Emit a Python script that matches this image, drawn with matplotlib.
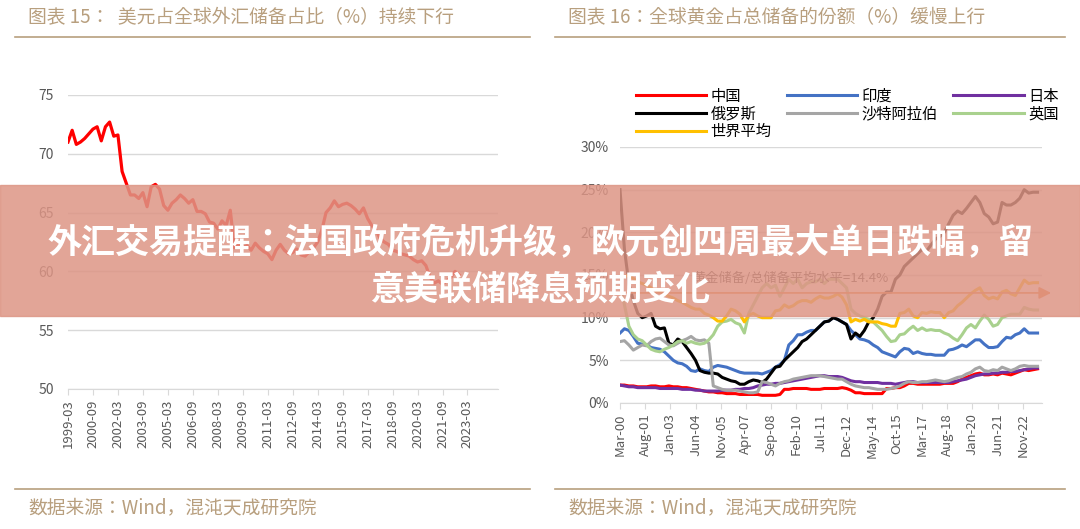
import matplotlib
matplotlib.use("Agg")
import matplotlib.pyplot as plt
import numpy as np

plt.rcParams["font.family"] = ["Noto Sans CJK JP", "DejaVu Sans"]

# ---- Left chart data: USD share of global FX reserves, quarterly from 1999-03
usd_share = [71.0, 72.0, 70.8, 71.0, 71.3, 71.7, 72.1, 72.3, 71.1, 72.3, 72.7, 71.5,
             71.6, 68.5, 67.5, 66.5, 66.5, 66.2, 66.7, 65.5, 67.2, 67.4, 67.0, 65.6,
             65.2, 65.8, 66.1, 66.5, 66.2, 65.8, 66.1, 65.1, 65.1, 64.9, 64.2, 64.1,
             63.6, 64.3, 63.9, 65.2, 62.0, 62.3, 62.0, 62.2, 61.8, 62.4, 62.0, 61.7,
             61.5, 61.0, 61.8, 62.3, 61.8, 61.5, 61.6, 61.9, 61.4, 61.3, 61.7, 62.0,
             62.5, 63.5, 65.0, 65.4, 66.0, 65.5, 65.7, 65.8, 65.6, 65.3, 64.9, 65.4,
             64.5, 63.9, 63.5, 62.8, 62.5, 62.3, 61.8, 61.7, 61.5, 61.4, 61.3, 61.0,
             60.8, 60.9, 60.5, 59.5, 59.0, 59.2, 58.9, 59.2, 59.5, 60.0, 59.7]
left_ticks = ["1999-03", "2000-09", "2002-03", "2003-09", "2005-03", "2006-09",
              "2008-03", "2009-09", "2011-03", "2012-09", "2014-03", "2015-09",
              "2017-03", "2018-09", "2020-03", "2021-09", "2023-03"]

# ---- Right chart data: gold / total reserves (%), quarterly from Mar-00
china = [2.1, 2.1, 2.0, 2.0, 1.9, 1.9, 1.9, 2.0, 2.0, 1.9, 1.9, 2.0, 1.9, 1.9, 1.8, 1.8,
         1.7, 1.6, 1.5, 1.4, 1.3, 1.3, 1.2, 1.2, 1.1, 1.1, 1.1, 1.0, 1.0, 1.0, 1.0, 1.0,
         0.9, 0.9, 0.9, 0.9, 1.0, 1.6, 1.6, 1.7, 1.7, 1.7, 1.7, 1.6, 1.6, 1.6, 1.7, 1.7,
         1.7, 1.7, 1.8, 1.7, 1.5, 1.2, 1.2, 1.1, 1.1, 1.1, 1.1, 1.1, 1.7, 1.7, 1.8, 1.8,
         2.0, 2.3, 2.3, 2.2, 2.2, 2.2, 2.2, 2.2, 2.2, 2.3, 2.3, 2.3, 2.5, 2.8, 3.0, 3.2,
         3.4, 3.5, 3.3, 3.3, 3.4, 3.3, 3.5, 3.4, 3.3, 3.5, 3.7, 3.9, 3.8, 3.9, 4.0]
india = [8.2, 8.7, 8.5, 7.8, 7.0, 6.9, 6.8, 6.5, 6.4, 6.3, 6.0, 5.5, 5.0, 4.7, 4.6, 4.3,
         3.8, 3.7, 4.0, 3.8, 3.7, 4.2, 4.4, 4.3, 4.2, 4.0, 3.8, 3.6, 3.5, 3.5, 3.5, 3.5,
         3.4, 3.6, 3.8, 4.2, 4.5, 5.0, 6.8, 7.3, 8.0, 8.0, 8.3, 8.5, 8.5, 9.0, 9.5, 9.6,
         10.0, 9.8, 9.5, 9.2, 8.5, 8.0, 7.5, 7.4, 7.2, 6.8, 6.5, 6.0, 5.8, 5.6, 5.4, 6.0,
         6.4, 6.3, 5.8, 6.0, 5.8, 5.7, 5.7, 5.6, 5.6, 5.6, 6.2, 6.3, 6.5, 6.8, 6.6, 7.0,
         7.4, 7.4, 6.9, 6.5, 6.5, 6.6, 7.2, 7.7, 7.6, 8.0, 8.2, 8.7, 8.2, 8.2, 8.2]
japan = [2.1, 2.0, 1.9, 1.9, 1.8, 1.8, 1.8, 1.8, 1.8, 1.7, 1.7, 1.7, 1.7, 1.7, 1.6, 1.6,
         1.6, 1.5, 1.5, 1.4, 1.4, 1.4, 1.4, 1.5, 1.5, 1.5, 1.6, 1.6, 1.7, 1.7, 1.8, 2.0,
         2.1, 2.2, 2.2, 2.3, 2.3, 2.4, 2.5, 2.6, 2.7, 2.8, 2.9, 3.0, 3.1, 3.2, 3.2, 3.1,
         3.1, 3.1, 3.0, 2.8, 2.6, 2.5, 2.5, 2.4, 2.4, 2.4, 2.4, 2.3, 2.3, 2.3, 2.2, 2.3,
         2.4, 2.5, 2.5, 2.4, 2.4, 2.4, 2.4, 2.4, 2.4, 2.4, 2.4, 2.5, 2.6, 2.7, 2.8, 3.0,
         3.2, 3.3, 3.4, 3.4, 3.5, 3.5, 3.6, 3.6, 3.7, 3.7, 3.8, 3.9, 4.0, 4.1, 4.1]
russia = [25.0, 18.0, 14.0, 12.0, 10.5, 10.0, 10.2, 10.5, 9.0, 8.7, 8.8, 7.0, 6.8, 7.5, 7.2, 6.5,
          5.8, 5.0, 3.8, 3.6, 3.5, 3.5, 3.4, 3.0, 2.8, 2.6, 2.5, 2.2, 2.2, 2.5, 2.7, 2.6,
          2.4, 2.8, 3.5, 4.2, 4.3, 5.0, 5.5, 6.0, 6.5, 7.2, 7.5, 8.0, 8.5, 9.0, 9.5, 9.6,
          10.0, 9.8, 9.5, 9.2, 7.5, 8.2, 7.8, 8.5, 9.5, 10.0, 11.0, 12.5, 13.0, 13.0, 14.5, 15.0,
          16.0, 16.5, 17.0, 17.5, 18.0, 17.8, 18.5, 19.2, 19.5, 20.0, 21.0, 22.0, 22.5, 22.2, 22.8, 23.5,
          24.2, 23.5, 22.2, 21.8, 21.0, 21.2, 23.5, 23.2, 23.2, 23.5, 24.0, 25.0, 24.6, 24.7, 24.7]
saudi = [7.2, 7.3, 6.8, 6.2, 6.5, 6.8, 6.7, 7.2, 7.5, 7.6, 7.2, 6.8, 6.7, 7.0, 7.3, 7.5,
         7.8, 7.4, 7.3, 7.4, 7.0, 2.0, 1.8, 1.6, 1.5, 1.5, 1.5, 1.4, 1.3, 1.2, 1.2, 1.3,
         2.5, 2.4, 2.2, 2.0, 2.3, 2.5, 2.6, 2.8, 2.9, 3.0, 3.1, 3.2, 3.2, 3.2, 3.1, 3.0,
         2.9, 2.8, 2.8, 2.5, 2.2, 2.0, 1.9, 1.8, 1.8, 1.7, 1.6, 1.6, 1.6, 1.7, 1.8, 2.0,
         2.3, 2.5, 2.4, 2.4, 2.5, 2.5, 2.6, 2.7, 2.6, 2.5, 2.6, 2.8, 3.0, 3.1, 3.4, 3.6,
         4.0, 4.2, 3.8, 3.7, 3.9, 3.8, 4.2, 4.0, 3.8, 4.0, 4.3, 4.4, 4.3, 4.3, 4.3]
uk = [14.0, 11.5, 9.0, 8.0, 7.5, 7.3, 6.8, 6.3, 6.1, 6.0, 6.3, 6.5, 6.8, 7.2, 7.3, 7.0,
      7.2, 7.0, 6.9, 7.0, 7.4, 8.0, 9.0, 9.5, 9.6, 9.8, 9.4, 9.2, 8.2, 10.5, 11.5, 12.5,
      13.5, 14.0, 13.5, 13.8, 12.5, 13.5, 14.5, 14.0, 14.5, 13.5, 14.0, 14.2, 14.2, 14.5, 14.0, 14.5,
      14.5, 14.5, 14.0, 13.5, 11.0, 10.5, 10.2, 10.0, 9.8, 9.5, 9.0, 8.5, 7.8, 7.2, 7.3, 8.0,
      8.1, 8.6, 9.0, 8.5, 8.8, 8.5, 8.6, 8.5, 8.5, 8.2, 8.0, 7.6, 7.3, 8.0, 8.8, 9.2,
      8.8, 9.6, 10.3, 9.8, 9.0, 9.2, 10.0, 10.2, 10.4, 10.4, 10.4, 11.2, 11.0, 10.9, 10.9]
world = [14.5, 14.8, 15.0, 14.6, 14.2, 14.0, 13.8, 13.5, 13.2, 13.0, 12.8, 12.5, 12.3, 12.0, 11.8, 11.5,
         11.2, 11.0, 11.0, 10.5, 10.3, 10.0, 9.6, 9.6, 10.2, 11.0, 10.8, 10.4, 9.5, 10.3, 10.5, 10.2,
         10.0, 10.0, 10.0, 10.8, 10.9, 11.5, 11.2, 11.4, 11.8, 12.0, 12.0, 11.8, 12.2, 12.5, 12.3, 12.3,
         12.5, 12.8, 12.4, 11.5, 9.5, 9.8, 9.6, 9.8, 9.5, 9.5, 9.5, 9.3, 9.2, 9.0, 9.0, 10.5,
         10.6, 11.0, 10.2, 10.0, 10.6, 10.5, 10.7, 10.6, 10.6, 10.0, 10.6, 10.8, 11.4, 11.8, 12.3, 12.8,
         13.2, 13.5, 12.6, 12.2, 12.4, 12.2, 13.0, 13.2, 12.8, 12.6, 13.5, 14.4, 14.0, 14.1, 14.1]
right_ticks = ["Mar-00", "Aug-01", "Jan-03", "Jun-04", "Nov-05", "Apr-07", "Sep-08", "Feb-10",
               "Jul-11", "Dec-12", "May-14", "Oct-15", "Mar-17", "Aug-18", "Jan-20", "Jun-21", "Nov-22"]
series_names = ["中国", "印度", "日本", "俄罗斯", "沙特阿拉伯", "英国", "世界平均"]

W, H = 1080, 529
fig = plt.figure(figsize=(W / 100, H / 100), dpi=100)
fig.patch.set_facecolor("white")

def ax_rect(x0, y0, x1, y1):
    return [x0 / W, 1 - y1 / H, (x1 - x0) / W, (y1 - y0) / H]

tan = "#b89f7e"
grid_c = "#d9d9d9"
tick_c = "#595959"

# headers and footers
for x0, x1, title in [(15, 530, "图表 15：  美元占全球外汇储备占比（%）持续下行"),
                      (555, 1065, "图表 16：全球黄金占总储备的份额（%）缓慢上行")]:
    fig.add_artist(plt.Line2D([x0 / W, x1 / W], [1 - 37 / H] * 2, color=tan, lw=1.2))
    fig.add_artist(plt.Line2D([x0 / W, x1 / W], [1 - 489 / H] * 2, color=tan, lw=1.2))
    fig.text((x0 + 13) / W, 1 - 18 / H, title, color=tan, fontsize=13.5, va="center")
    fig.text((x0 + 13) / W, 1 - 508 / H, "数据来源：Wind，混沌天成研究院", color=tan,
             fontsize=13.5, va="center")

# ---- Left chart
axL = fig.add_axes(ax_rect(68, 95, 498, 389))
mL = np.arange(len(usd_share)) * 3
axL.plot(mL, usd_share, color="#ff0000", lw=2.3)
axL.set_ylim(50, 75)
axL.set_xlim(0, 310)
axL.set_yticks([50, 55, 60, 65, 70, 75])
axL.set_xticks(np.arange(len(left_ticks)) * 18)
axL.set_xticklabels(left_ticks, rotation=90)
axL.yaxis.grid(True, color=grid_c, lw=1)
axL.set_axisbelow(True)
for s in ["top", "right", "left"]:
    axL.spines[s].set_visible(False)
axL.spines["bottom"].set_color(grid_c)
axL.tick_params(axis="y", length=0, labelsize=10, labelcolor=tick_c, pad=10)
axL.tick_params(axis="x", length=4, color=grid_c, labelsize=9.5, labelcolor=tick_c)

# ---- Right chart
axR = fig.add_axes(ax_rect(620, 147, 1042, 403))
mR = np.arange(len(china)) * 3
colors = ["#ff0000", "#4472c4", "#7030a0", "#000000", "#a5a5a5", "#a9d18e", "#ffc000"]
data = [china, india, japan, russia, saudi, uk, world]
lines = []
for d, c, n in zip(data, colors, series_names):
    ln, = axR.plot(mR, d, color=c, lw=2.2, label=n)
    lines.append(ln)
axR.set_ylim(0, 30)
axR.set_xlim(0, 285)
axR.set_yticks([0, 5, 10, 15, 20, 25, 30])
axR.set_yticklabels([f"{v}%" for v in [0, 5, 10, 15, 20, 25, 30]])
axR.set_xticks(np.arange(len(right_ticks)) * 17)
axR.set_xticklabels(right_ticks, rotation=90)
axR.yaxis.grid(True, color=grid_c, lw=1)
axR.set_axisbelow(True)
for s in ["top", "right", "left"]:
    axR.spines[s].set_visible(False)
axR.spines["bottom"].set_color(grid_c)
axR.tick_params(axis="y", length=0, labelsize=10, labelcolor=tick_c, pad=8)
axR.tick_params(axis="x", length=4, color=grid_c, labelsize=9.5, labelcolor=tick_c)
axR.text(115, 14.6, "黄金储备/总储备平均水平=14.4%", fontsize=9.5, color="#404040",
         ha="center", va="center")
axR.annotate("", xy=(293, 12.9), xytext=(0, 12.9),
             arrowprops=dict(arrowstyle="-|>", color="#ed7d31", lw=1.2, mutation_scale=18),
             annotation_clip=False)
# matplotlib fills legend columns first; reorder so rows read like the reference
order = [0, 3, 6, 1, 4, 2, 5]
fig.legend([lines[i] for i in order], [series_names[i] for i in order],
           loc="upper left", ncol=3,
           bbox_to_anchor=(622 / W, 1 - 74 / H), frameon=False, fontsize=11,
           handlelength=4.6, columnspacing=1.0, labelspacing=0.05, handletextpad=0.3)

# ---- Overlay banner
fig.add_artist(plt.Rectangle((0, 1 - 316 / H), 1, 131 / H, transform=fig.transFigure,
                             color="#dd9585", alpha=0.85, zorder=10))
fig.text(0.5, 1 - 243 / H, "外汇交易提醒：法国政府危机升级，欧元创四周最大单日跌幅，留",
         color="white", fontsize=24.5, fontweight="bold", ha="center", va="center", zorder=11)
fig.text(0.5, 1 - 289 / H, "意美联储降息预期变化",
         color="white", fontsize=24.5, fontweight="bold", ha="center", va="center", zorder=11)

fig.savefig("out.png", dpi=100)
